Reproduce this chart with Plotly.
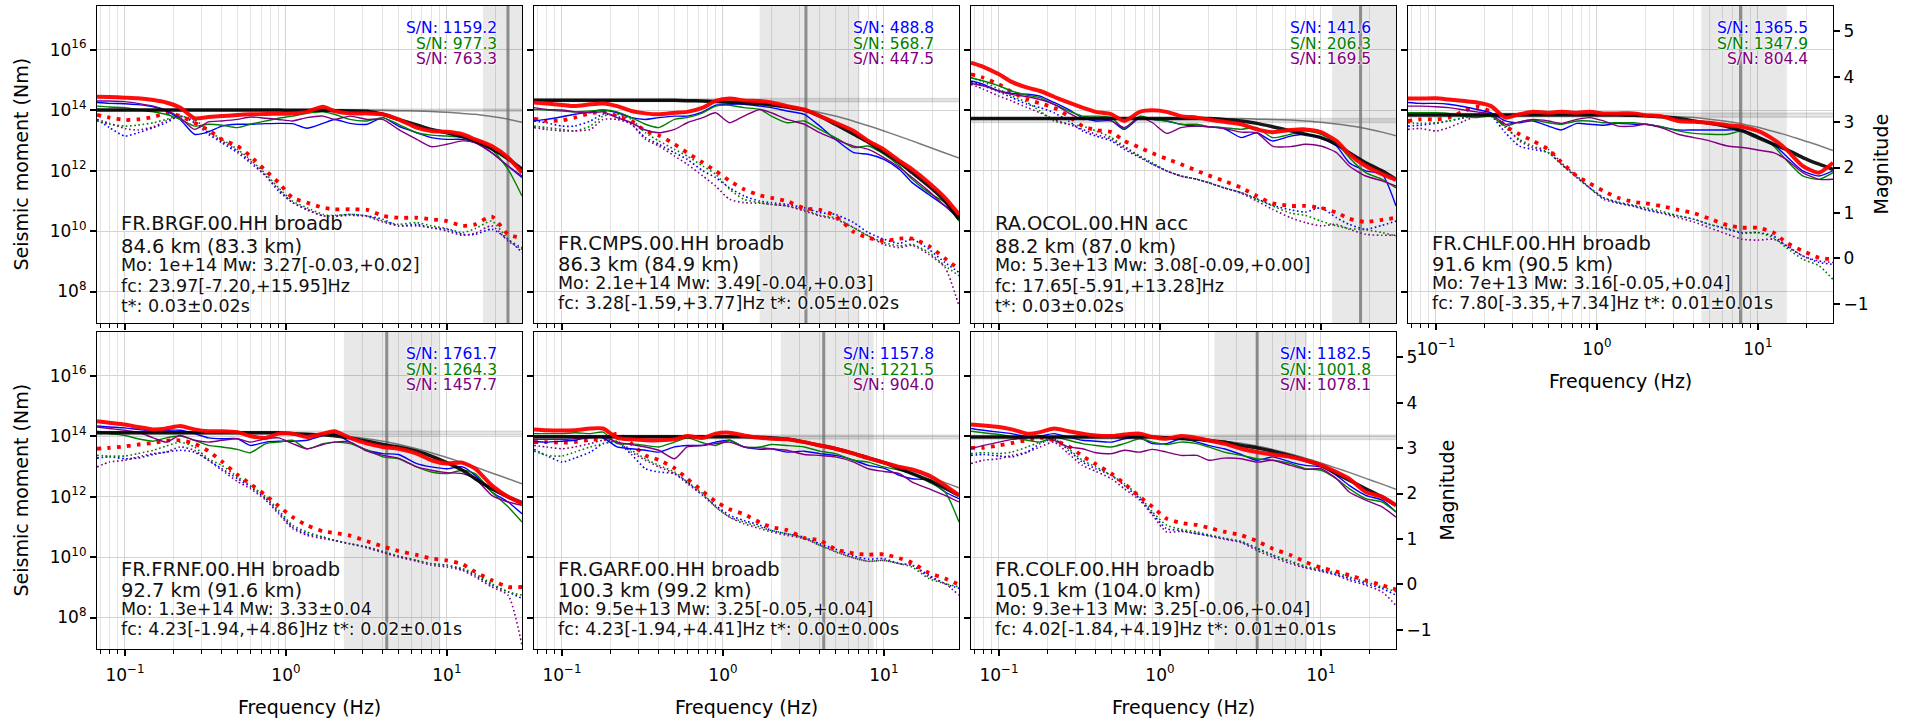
import math
import plotly.graph_objects as go

# ---------------- data (log10 of seismic moment in N·m) ----------------
FREQ = [0.067, 0.08, 0.1, 0.12, 0.15, 0.18, 0.22, 0.27, 0.33, 0.4,
        0.5, 0.6, 0.75, 0.9, 1.1, 1.35, 1.7, 2.0, 2.5, 3.2,
        4, 5, 6.5, 8, 10, 12.5, 15, 19, 24, 29.3]

# --- FR.BRGF ---
BRGF_RED = [14.44,14.43,14.41,14.39,14.33,14.25,14.08,13.73,13.77,13.80, 13.84,13.86,13.87,13.88,13.89,13.94,14.11,13.97,13.89,13.89, 13.86,13.69,13.42,13.31,13.28,13.20,13.03,12.81,12.43,11.93]
BRGF_BLUE = [14.25,14.22,14.21,14.18,14.11,13.97,13.69,13.20,13.28,13.47, 13.53,13.53,13.55,13.56,13.55,13.40,13.56,13.69,13.56,13.53, 13.75,13.47,13.25,13.09,13.03,13.03,12.92,12.59,12.15,11.77]
BRGF_GREEN = [14.13,14.10,14.08,14.02,13.94,13.86,13.69,13.47,13.53,13.50, 13.42,13.53,13.64,13.73,13.80,13.89,13.94,13.86,13.69,13.64, 13.75,13.53,13.25,13.17,13.14,13.09,12.98,12.70,12.04,11.16]
BRGF_PURPLE = [14.30,14.30,14.28,14.22,14.13,14.00,13.75,13.36,13.61,13.64, 13.69,13.77,13.73,13.69,13.64,13.75,13.80,13.69,13.80,13.69, 13.69,13.36,13.03,12.79,12.87,12.98,12.92,12.59,12.15,11.82]
BRGF_FIT = [14.00,14.00,14.00,14.00,14.00,14.00,14.00,14.00,14.00,14.00, 14.00,14.00,14.00,14.00,13.99,13.99,13.99,13.98,13.97,13.96, 13.86,13.69,13.51,13.36,13.25,13.12,12.98,12.72,12.39,12.04]
BRGF_SRC = [14.00,14.00,14.00,14.00,14.00,14.00,14.00,14.00,14.00,14.00, 14.00,14.00,14.00,14.00,14.00,14.00,14.00,14.00,14.00,13.99, 13.99,13.98,13.97,13.95,13.93,13.89,13.86,13.79,13.70,13.60]
BRGF_N_RED = [13.84,13.75,13.67,13.69,13.77,13.89,13.80,13.58,13.34,13.03, 12.81,12.48,11.99,11.60,11.10,10.94,10.77,10.72,10.72,10.70, 10.50,10.44,10.44,10.39,10.33,10.17,10.22,10.48,9.89,9.78]
BRGF_N_BLUE = [13.69,13.42,13.14,13.25,13.42,13.58,13.80,13.58,13.20,12.92, 12.59,12.26,11.82,11.32,10.94,10.72,10.50,10.50,10.55,10.50, 10.39,10.17,10.22,10.11,10.06,9.89,9.89,10.06,9.73,9.29]
BRGF_N_GREEN = [13.64,13.53,13.47,13.50,13.58,13.69,13.80,13.69,13.31,13.03, 12.70,12.37,11.88,11.43,10.99,10.77,10.55,10.52,10.55,10.50, 10.33,10.22,10.28,10.17,10.08,9.95,10.08,10.33,9.73,9.45]
BRGF_N_PURPLE = [13.69,13.56,13.39,13.34,13.45,13.64,13.80,13.64,13.25,12.98, 12.65,12.32,11.82,11.38,10.94,10.70,10.50,10.48,10.52,10.48, 10.30,10.17,10.17,10.11,10.00,9.86,9.93,10.17,9.67,9.40]

# --- FR.CMPS ---
CMPS_RED = [14.25,14.22,14.17,14.13,14.19,14.22,14.13,13.97,13.89,13.86, 13.91,13.94,14.08,14.30,14.38,14.32,14.30,14.25,14.13,14.02, 13.80,13.58,13.31,12.98,12.70,12.32,12.04,11.60,11.10,10.55]
CMPS_BLUE = [13.64,13.69,13.78,13.86,13.94,14.00,13.91,13.75,13.69,13.75, 13.80,13.80,13.94,14.16,14.19,14.19,14.13,14.08,13.97,13.86, 13.47,13.03,12.59,12.54,12.37,12.04,11.60,11.21,10.83,10.39]
CMPS_GREEN = [14.02,14.00,13.97,13.94,13.97,14.00,13.94,13.75,13.53,13.42, 13.69,13.75,13.91,14.13,14.16,14.08,14.02,13.80,13.58,13.64, 13.36,13.09,12.76,12.81,12.54,12.15,11.71,11.27,10.94,10.33]
CMPS_PURPLE = [14.08,14.02,14.00,13.94,13.91,13.94,13.75,13.58,13.34,13.25, 13.36,13.58,13.75,13.91,13.58,13.80,14.02,13.91,13.69,13.53, 13.25,13.03,12.81,12.70,12.43,12.10,11.77,11.32,10.83,10.50]
CMPS_FIT = [14.32,14.32,14.32,14.32,14.32,14.32,14.32,14.32,14.32,14.32, 14.32,14.31,14.30,14.28,14.26,14.24,14.21,14.17,14.10,14.00, 13.80,13.53,13.20,12.94,12.61,12.26,11.93,11.49,10.99,10.39]
CMPS_SRC = [14.32,14.32,14.32,14.32,14.32,14.32,14.32,14.32,14.32,14.32, 14.32,14.31,14.30,14.29,14.27,14.25,14.22,14.18,14.12,14.03, 13.92,13.80,13.63,13.48,13.31,13.13,12.98,12.78,12.58,12.41]
CMPS_N_RED = [13.72,13.64,13.66,13.75,13.89,13.94,13.80,13.64,13.31,13.16, 12.87,12.59,12.26,11.99,11.66,11.38,11.18,11.10,10.99,10.75, 10.70,10.50,9.97,9.78,9.67,9.75,9.75,9.51,9.09,8.74]
CMPS_N_BLUE = [13.64,13.58,13.47,13.47,13.64,13.86,13.80,13.53,13.09,12.87, 12.59,12.37,11.99,11.77,11.43,11.16,10.99,10.94,10.88,10.77, 10.61,10.55,10.28,9.95,9.73,9.59,9.73,9.40,8.96,8.63]
CMPS_N_GREEN = [13.47,13.42,13.36,13.31,13.47,13.80,13.86,13.69,13.25,12.98, 12.70,12.48,12.15,11.88,11.38,11.05,10.94,10.88,10.83,10.70, 10.52,10.44,10.11,9.84,9.62,9.51,9.56,9.29,8.85,8.52]
CMPS_N_PURPLE = [13.42,13.36,13.31,13.31,13.36,13.69,13.69,13.53,13.03,12.81, 12.48,12.21,11.82,11.49,11.05,10.94,10.92,10.88,10.83,10.66, 10.50,10.39,10.11,9.84,9.56,9.45,9.53,9.23,8.79,7.52]

# --- RA.OCOL ---
OCOL_RED = [15.57,15.43,15.18,14.93,14.74,14.63,14.44,14.25,14.08,13.94, 13.86,13.64,13.94,13.99,13.94,13.80,13.75,13.69,13.61,13.53, 13.36,13.27,13.34,13.36,13.27,12.98,12.54,12.15,11.88,11.69]
OCOL_BLUE = [14.96,14.85,14.63,14.55,14.52,14.46,14.25,14.02,13.75,13.64, 13.64,13.36,13.75,13.69,13.64,13.53,13.47,13.45,13.39,13.09, 13.25,12.98,13.14,13.20,13.09,12.81,12.26,11.99,11.88,10.83]
OCOL_GREEN = [15.07,14.96,14.80,14.63,14.49,14.41,14.19,13.97,13.80,13.80, 13.75,13.39,13.80,13.69,13.64,13.53,13.53,13.45,13.42,13.36, 13.42,13.09,13.20,13.31,13.20,12.92,12.43,11.93,11.71,11.43]
OCOL_PURPLE = [14.88,14.80,14.63,14.52,14.44,14.35,14.19,13.91,13.69,13.75, 13.64,13.42,13.75,13.58,13.23,13.42,13.47,13.45,13.39,13.27, 13.25,12.81,12.79,12.87,12.81,12.59,12.15,11.82,11.66,11.49]
OCOL_FIT = [13.72,13.72,13.72,13.72,13.72,13.72,13.72,13.72,13.72,13.72, 13.72,13.72,13.72,13.72,13.72,13.72,13.72,13.72,13.69,13.64, 13.56,13.45,13.31,13.20,13.09,12.87,12.59,12.26,11.99,11.71]
OCOL_SRC = [13.72,13.72,13.72,13.72,13.72,13.72,13.72,13.72,13.72,13.72, 13.72,13.72,13.72,13.72,13.72,13.72,13.72,13.72,13.72,13.72, 13.70,13.69,13.67,13.64,13.60,13.54,13.48,13.39,13.27,13.15]
OCOL_N_RED = [15.18,15.07,14.85,14.60,14.35,14.22,14.08,13.80,13.47,13.34, 13.27,12.98,12.76,12.57,12.39,12.21,11.99,11.84,11.66,11.43, 11.16,10.92,10.83,10.83,10.77,10.61,10.41,10.30,10.37,10.44]
OCOL_N_BLUE = [14.93,14.80,14.60,14.41,14.19,14.08,13.91,13.64,13.31,13.14, 12.98,12.70,12.43,12.21,11.99,11.82,11.71,11.60,11.43,11.27, 11.07,10.85,10.70,10.63,10.77,10.44,10.22,10.06,10.19,10.33]
OCOL_N_GREEN = [15.07,14.93,14.69,14.46,14.25,13.97,13.64,13.53,13.47,13.31, 13.09,12.81,12.48,12.26,11.99,11.82,11.71,11.60,11.43,11.27, 11.05,10.83,10.59,10.52,10.33,10.17,10.08,10.04,9.95,9.84]
OCOL_N_PURPLE = [14.85,14.69,14.46,14.30,14.08,13.91,13.69,13.53,13.36,13.20, 13.03,12.76,12.46,12.21,11.99,11.82,11.71,11.60,11.43,11.25, 10.99,10.72,10.44,10.28,10.17,10.22,10.06,9.89,9.86,9.86]

# --- FR.CHLF ---
CHLF_RED = [14.38,14.38,14.39,14.35,14.30,14.25,14.13,13.75,13.86,13.94, 13.91,13.94,13.91,13.94,13.89,13.89,13.89,13.83,13.80,13.64, 13.61,13.58,13.50,13.45,13.31,13.03,12.70,12.15,11.93,12.26]
CHLF_BLUE = [14.25,14.22,14.22,14.19,14.11,14.02,13.91,13.64,13.58,13.64, 13.47,13.34,13.56,13.53,13.50,13.56,13.53,13.53,13.45,13.34, 13.34,13.34,13.34,13.34,13.14,12.87,12.48,11.99,11.82,11.99]
CHLF_GREEN = [13.91,13.91,13.91,13.89,13.80,13.75,13.80,13.47,13.61,13.67, 13.58,13.53,13.64,13.64,13.58,13.58,13.58,13.53,13.45,13.31, 13.23,13.20,13.20,13.31,13.14,12.81,12.35,11.82,11.71,11.93]
CHLF_PURPLE = [14.13,14.13,14.11,14.08,14.00,13.94,13.86,13.53,13.61,13.69, 13.64,13.56,13.69,13.75,13.64,13.47,13.47,13.53,13.42,13.20, 13.09,12.98,12.81,12.76,12.68,12.59,12.37,11.93,11.71,11.71]
CHLF_FIT = [13.84,13.84,13.84,13.84,13.84,13.84,13.84,13.84,13.84,13.84, 13.84,13.84,13.84,13.84,13.84,13.84,13.83,13.81,13.78,13.72, 13.64,13.56,13.45,13.31,13.09,12.87,12.70,12.43,12.21,12.04]
CHLF_SRC = [13.85,13.85,13.85,13.85,13.85,13.85,13.85,13.85,13.85,13.85, 13.85,13.85,13.85,13.85,13.85,13.85,13.83,13.82,13.80,13.78, 13.75,13.70,13.62,13.54,13.43,13.29,13.18,13.00,12.83,12.66]
CHLF_N_RED = [13.64,13.69,13.69,13.75,13.97,14.11,13.94,13.47,13.20,12.98, 12.70,12.28,11.82,11.58,11.32,11.10,10.96,10.92,10.83,10.70, 10.59,10.41,10.19,10.11,10.11,9.95,9.62,9.34,9.12,9.07]
CHLF_N_BLUE = [13.47,13.50,13.56,13.64,13.75,13.86,13.80,13.25,12.81,12.70, 12.59,12.21,11.77,11.43,11.10,10.94,10.83,10.72,10.61,10.50, 10.39,10.22,10.06,9.93,9.95,9.84,9.51,9.18,8.96,8.90]
CHLF_N_GREEN = [13.58,13.56,13.58,13.64,13.75,13.80,13.80,13.42,13.03,12.81, 12.59,12.21,11.77,11.43,11.10,10.96,10.85,10.77,10.66,10.50, 10.39,10.22,10.08,9.95,9.95,9.78,9.45,9.07,8.85,8.40]
CHLF_N_PURPLE = [13.36,13.39,13.31,13.42,13.64,13.80,13.86,13.47,12.98,12.76, 12.70,12.26,11.82,11.43,11.05,10.92,10.81,10.70,10.59,10.44, 10.30,10.11,9.89,9.73,9.70,9.73,9.53,9.18,9.01,8.96]

# --- FR.FRNF ---
FRNF_RED = [14.49,14.44,14.38,14.30,14.22,14.25,14.33,14.22,14.16,14.16, 14.13,14.00,13.94,14.08,14.08,13.97,14.08,14.16,13.94,13.75, 13.64,13.58,13.42,13.20,13.09,13.12,12.92,12.37,11.99,11.77]
FRNF_BLUE = [14.33,14.30,14.27,14.22,14.16,14.19,14.19,14.08,13.94,13.91, 13.91,13.69,13.80,13.83,13.83,13.86,14.02,14.08,13.80,13.53, 13.42,13.39,13.09,12.98,12.92,12.98,12.70,12.15,11.82,11.43]
FRNF_GREEN = [14.16,14.08,14.02,13.91,13.83,13.94,14.00,13.86,13.69,13.64, 13.56,13.45,13.75,13.80,13.86,13.58,13.75,13.80,13.75,13.53, 13.31,13.25,12.98,12.81,12.76,12.87,12.76,12.15,11.66,11.16]
FRNF_PURPLE = [14.30,14.25,14.19,14.13,13.94,13.80,14.02,13.86,13.80,13.86, 13.91,13.80,13.91,13.94,13.75,13.58,13.72,13.80,13.80,13.50, 13.36,13.27,12.98,12.87,12.79,12.76,12.59,12.04,11.82,11.71]
FRNF_FIT = [14.11,14.11,14.11,14.11,14.11,14.11,14.11,14.11,14.11,14.11, 14.11,14.11,14.11,14.11,14.08,14.06,14.04,14.01,13.94,13.83, 13.72,13.64,13.50,13.34,13.12,12.87,12.59,12.26,11.99,11.80]
FRNF_SRC = [14.11,14.11,14.11,14.11,14.11,14.11,14.11,14.11,14.11,14.11, 14.11,14.11,14.11,14.11,14.08,14.07,14.05,14.03,13.98,13.91, 13.83,13.73,13.58,13.45,13.29,13.12,12.98,12.78,12.59,12.42]
FRNF_N_RED = [13.58,13.61,13.66,13.72,13.77,13.85,13.86,13.75,13.50,13.16, 12.72,12.42,12.04,11.69,11.32,11.05,10.85,10.80,10.71,10.52, 10.35,10.20,10.07,9.95,9.89,9.76,9.51,9.23,9.01,9.01]
FRNF_N_BLUE = [13.27,13.31,13.25,13.27,13.39,13.47,13.53,13.47,13.20,12.92, 12.59,12.32,11.93,11.49,10.99,10.77,10.66,10.55,10.44,10.33, 10.17,10.03,9.89,9.78,9.73,9.59,9.40,9.07,8.85,8.63]
FRNF_N_GREEN = [13.36,13.34,13.34,13.42,13.53,13.67,13.80,13.64,13.25,13.03, 12.65,12.37,11.99,11.55,11.05,10.83,10.66,10.55,10.44,10.33, 10.19,10.03,9.89,9.78,9.73,9.62,9.45,9.12,8.85,8.74]
FRNF_N_PURPLE = [12.98,13.14,13.20,13.31,13.42,13.47,13.64,13.53,13.20,12.87, 12.50,12.26,11.88,11.43,10.94,10.72,10.61,10.55,10.44,10.30, 10.15,10.00,9.86,9.73,9.67,9.56,9.34,9.01,8.74,7.08]

# --- FR.GARF ---
GARF_RED = [14.22,14.19,14.18,14.19,14.25,14.25,13.94,13.89,13.86,13.86, 13.89,14.00,13.94,14.08,14.11,14.02,13.94,13.91,13.89,13.80, 13.69,13.58,13.42,13.27,13.12,12.98,12.90,12.70,12.37,12.04]
GARF_BLUE = [13.83,13.80,13.83,13.86,13.97,13.94,13.64,13.58,13.53,13.47, 13.64,13.69,13.69,13.80,13.86,13.64,13.56,13.58,13.47,13.50, 13.42,13.36,13.20,13.03,12.94,12.70,12.59,12.54,12.15,11.93]
GARF_GREEN = [14.08,14.08,14.08,14.11,14.08,14.13,13.75,13.75,13.69,13.64, 13.80,13.94,13.78,13.69,13.86,13.64,13.64,13.72,13.69,13.64, 13.50,13.42,13.20,13.14,12.98,12.87,12.76,12.48,12.15,11.16]
GARF_PURPLE = [13.89,13.89,13.89,13.91,13.94,13.97,13.80,13.72,13.64,13.53, 13.25,13.64,13.69,13.75,13.80,13.64,13.61,13.58,13.53,13.39, 13.36,13.31,13.14,12.92,12.83,12.76,12.48,12.26,12.04,11.82]
GARF_FIT = [13.98,13.98,13.98,13.98,13.98,13.98,13.98,13.98,13.98,13.98, 13.98,13.98,13.98,13.98,13.98,13.98,13.96,13.94,13.90,13.80, 13.69,13.58,13.42,13.27,13.12,12.92,12.76,12.54,12.28,12.04]
GARF_SRC = [13.98,13.98,13.98,13.98,13.98,13.98,13.98,13.98,13.98,13.98, 13.98,13.98,13.98,13.98,13.98,13.98,13.96,13.94,13.90,13.82, 13.72,13.61,13.46,13.32,13.16,12.99,12.85,12.65,12.46,12.29]
GARF_N_RED = [13.80,13.80,13.78,13.80,13.88,13.89,14.08,13.75,13.36,13.21, 12.94,12.59,12.17,11.84,11.58,11.42,11.14,10.99,10.89,10.63, 10.55,10.26,10.12,10.08,10.09,9.96,9.81,9.48,9.29,9.09]
GARF_N_BLUE = [13.56,13.36,13.14,13.27,13.47,13.75,13.80,13.39,12.92,12.81, 12.76,12.48,12.04,11.71,11.38,11.21,11.05,10.88,10.77,10.66, 10.44,10.26,10.03,9.93,9.95,9.78,9.73,9.40,9.12,8.96]
GARF_N_GREEN = [13.50,13.36,13.34,13.47,13.64,13.75,13.83,13.53,13.25,13.03, 12.81,12.48,12.10,11.66,11.32,11.16,10.99,10.88,10.77,10.63, 10.39,10.17,9.97,9.86,9.89,9.78,9.67,9.29,9.12,9.01]
GARF_N_PURPLE = [13.69,13.64,13.58,13.64,13.75,13.86,13.80,13.47,13.20,12.98, 12.76,12.43,12.04,11.66,11.32,11.10,10.94,10.83,10.72,10.61, 10.39,10.19,9.97,9.86,9.89,9.78,9.73,9.34,9.12,8.74]

# --- FR.COLF ---
COLF_RED = [14.38,14.35,14.30,14.22,14.08,14.13,14.25,14.16,14.08,14.02, 14.00,14.05,14.08,13.97,13.91,14.00,13.94,13.86,13.75,13.58, 13.47,13.39,13.31,13.20,13.05,12.81,12.59,12.15,11.99,11.71]
COLF_BLUE = [14.25,14.19,14.13,14.08,13.97,14.00,14.08,13.97,13.86,13.83, 13.80,13.91,13.94,13.75,13.75,13.91,13.80,13.69,13.58,13.39, 13.20,13.31,13.14,13.03,12.98,12.70,12.37,12.04,11.88,11.49]
COLF_GREEN = [14.16,14.11,14.05,13.97,13.86,13.80,13.97,13.86,13.75,13.69, 13.64,13.75,13.91,13.80,13.72,13.80,13.75,13.64,13.47,13.36, 13.25,13.20,13.09,12.92,12.87,12.59,12.26,11.93,11.82,11.49]
COLF_PURPLE = [13.58,13.69,13.80,13.89,13.94,14.00,13.86,13.64,13.58,13.45, 13.42,13.53,13.47,13.56,13.47,13.36,13.36,13.20,13.27,13.25, 13.14,13.20,13.03,12.90,12.92,12.59,12.15,11.88,11.66,11.32]
COLF_FIT = [13.97,13.97,13.97,13.97,13.97,13.97,13.97,13.97,13.97,13.97, 13.97,13.97,13.97,13.97,13.94,13.92,13.89,13.85,13.80,13.69, 13.61,13.50,13.34,13.20,13.03,12.76,12.54,12.26,11.99,11.71]
COLF_SRC = [13.97,13.97,13.97,13.97,13.97,13.97,13.97,13.97,13.97,13.97, 13.97,13.97,13.97,13.97,13.94,13.92,13.90,13.87,13.83,13.76, 13.67,13.56,13.41,13.27,13.11,12.94,12.80,12.60,12.41,12.24]
COLF_N_RED = [13.61,13.61,13.69,13.77,13.86,13.95,13.85,13.67,13.34,13.07, 12.76,12.43,11.99,11.66,11.27,11.13,11.06,10.97,10.84,10.72, 10.53,10.28,10.06,9.84,9.65,9.52,9.40,9.23,9.07,8.93]
COLF_N_BLUE = [13.36,13.39,13.34,13.31,13.47,13.75,13.91,13.53,13.14,12.92, 12.70,12.37,11.93,11.43,10.94,10.88,10.77,10.72,10.61,10.50, 10.28,10.06,9.84,9.67,9.56,9.42,9.29,9.12,8.96,8.74]
COLF_N_GREEN = [13.42,13.45,13.42,13.47,13.64,13.80,13.89,13.58,13.20,12.98, 12.70,12.43,11.99,11.49,11.05,10.92,10.83,10.74,10.63,10.52, 10.30,10.08,9.86,9.70,9.59,9.48,9.34,9.18,9.01,8.85]
COLF_N_PURPLE = [13.09,13.20,13.25,13.36,13.47,13.64,13.80,13.42,13.03,12.83, 12.59,12.26,11.88,11.38,10.83,10.85,10.77,10.70,10.59,10.48, 10.22,10.00,9.78,9.64,9.53,9.40,9.23,9.07,8.85,8.40]

# --- text / parameters ---
STATION = ["FR.BRGF.00.HH broadb", "FR.CMPS.00.HH broadb", "RA.OCOL.00.HN acc", "FR.CHLF.00.HH broadb",
           "FR.FRNF.00.HH broadb", "FR.GARF.00.HH broadb", "FR.COLF.00.HH broadb"]
DISTANCE = ["84.6 km (83.3 km)", "86.3 km (84.9 km)", "88.2 km (87.0 km)", "91.6 km (90.5 km)",
            "92.7 km (91.6 km)", "100.3 km (99.2 km)", "105.1 km (104.0 km)"]
PARAM_LINES = [
    ["Mo: 1e+14 Mw: 3.27[-0.03,+0.02]", "fc: 23.97[-7.20,+15.95]Hz", "t*: 0.03±0.02s"],
    ["Mo: 2.1e+14 Mw: 3.49[-0.04,+0.03]", "fc: 3.28[-1.59,+3.77]Hz t*: 0.05±0.02s"],
    ["Mo: 5.3e+13 Mw: 3.08[-0.09,+0.00]", "fc: 17.65[-5.91,+13.28]Hz", "t*: 0.03±0.02s"],
    ["Mo: 7e+13 Mw: 3.16[-0.05,+0.04]", "fc: 7.80[-3.35,+7.34]Hz t*: 0.01±0.01s"],
    ["Mo: 1.3e+14 Mw: 3.33±0.04", "fc: 4.23[-1.94,+4.86]Hz t*: 0.02±0.01s"],
    ["Mo: 9.5e+13 Mw: 3.25[-0.05,+0.04]", "fc: 4.23[-1.94,+4.41]Hz t*: 0.00±0.00s"],
    ["Mo: 9.3e+13 Mw: 3.25[-0.06,+0.04]", "fc: 4.02[-1.84,+4.19]Hz t*: 0.01±0.01s"],
]
SN_BLUE = ["1159.2", "488.8", "141.6", "1365.5", "1761.7", "1157.8", "1182.5"]
SN_GREEN = ["977.3", "568.7", "206.3", "1347.9", "1264.3", "1221.5", "1001.8"]
SN_PURPLE = ["763.3", "447.5", "169.5", "804.4", "1457.7", "904.0", "1078.1"]
FC = [23.97, 3.28, 17.65, 7.80, 4.23, 4.23, 4.02]
FC_MINUS = [7.20, 1.59, 5.91, 3.35, 1.94, 1.94, 1.84]
FC_PLUS = [15.95, 3.77, 13.28, 7.34, 4.86, 4.41, 4.19]
MW = [3.27, 3.49, 3.08, 3.16, 3.33, 3.25, 3.25]
MW_MINUS = [0.03, 0.04, 0.09, 0.05, 0.04, 0.05, 0.06]
MW_PLUS = [0.02, 0.03, 0.00, 0.04, 0.04, 0.04, 0.04]

X_TICKS = [0.1, 1, 10]
X_TICKTEXT = ["10<sup>\u22121</sup>", "10<sup>0</sup>", "10<sup>1</sup>"]
Y_TICKS = [1e8, 1e10, 1e12, 1e14, 1e16]
Y_TICKTEXT = ["10<sup>8</sup>", "10<sup>10</sup>", "10<sup>12</sup>", "10<sup>14</sup>", "10<sup>16</sup>"]
MAG_TICKS = [-1, 0, 1, 2, 3, 4, 5]
MAG_TICKTEXT = ["\u22121", "0", "1", "2", "3", "4", "5"]
X_MINOR = [0.07, 0.08, 0.09, 0.2, 0.3, 0.4, 0.5, 0.6, 0.7, 0.8, 0.9,
           2, 3, 4, 5, 6, 7, 8, 9, 20]

SERIES = [
    (BRGF_RED, BRGF_BLUE, BRGF_GREEN, BRGF_PURPLE, BRGF_FIT, BRGF_SRC, BRGF_N_RED, BRGF_N_BLUE, BRGF_N_GREEN, BRGF_N_PURPLE),
    (CMPS_RED, CMPS_BLUE, CMPS_GREEN, CMPS_PURPLE, CMPS_FIT, CMPS_SRC, CMPS_N_RED, CMPS_N_BLUE, CMPS_N_GREEN, CMPS_N_PURPLE),
    (OCOL_RED, OCOL_BLUE, OCOL_GREEN, OCOL_PURPLE, OCOL_FIT, OCOL_SRC, OCOL_N_RED, OCOL_N_BLUE, OCOL_N_GREEN, OCOL_N_PURPLE),
    (CHLF_RED, CHLF_BLUE, CHLF_GREEN, CHLF_PURPLE, CHLF_FIT, CHLF_SRC, CHLF_N_RED, CHLF_N_BLUE, CHLF_N_GREEN, CHLF_N_PURPLE),
    (FRNF_RED, FRNF_BLUE, FRNF_GREEN, FRNF_PURPLE, FRNF_FIT, FRNF_SRC, FRNF_N_RED, FRNF_N_BLUE, FRNF_N_GREEN, FRNF_N_PURPLE),
    (GARF_RED, GARF_BLUE, GARF_GREEN, GARF_PURPLE, GARF_FIT, GARF_SRC, GARF_N_RED, GARF_N_BLUE, GARF_N_GREEN, GARF_N_PURPLE),
    (COLF_RED, COLF_BLUE, COLF_GREEN, COLF_PURPLE, COLF_FIT, COLF_SRC, COLF_N_RED, COLF_N_BLUE, COLF_N_GREEN, COLF_N_PURPLE),
]
for grp in SERIES:
    for arr in grp:
        assert len(arr) == len(FREQ), len(arr)

# ---------------- layout geometry ----------------
W, H = 1906, 722
COL_LEFT = [97, 534, 971, 1408]
PW = 425
ROW_TOP = [6, 332]
PH = 317
YLOG = [6.96, 17.44]
XLOG = [math.log10(FREQ[0]), math.log10(FREQ[-1])]
FONT = "DejaVu Sans"
HALO = "0 0 2px white, 0 0 2px white, 0 0 3px white"

BLUE, GREEN, PURPLE, RED = "#0000ff", "#008000", "#800080", "#ff0000"


def mw_to_m0(m):
    return 10 ** (1.5 * m + 9.1)


def pow10(v):
    return [10 ** x for x in v]


fig = go.Figure()
layout = dict(width=W, height=H, autosize=False, margin=dict(l=0, r=0, t=0, b=0),
              showlegend=False, paper_bgcolor="white", plot_bgcolor="white",
              font=dict(family=FONT, size=17, color="black"))
annotations = []

for i in range(7):
    r, c = divmod(i, 4)
    sfx = "" if i == 0 else str(i + 1)
    xa, ya = "x" + sfx, "y" + sfx
    red, blue, green, purple, fit, src, nred, nblue, ngreen, npurple = SERIES[i]

    def add(x, y, **kw):
        fig.add_trace(go.Scatter(x=x, y=y, xaxis=xa, yaxis=ya, hoverinfo="skip", showlegend=False, **kw))

    # fc uncertainty span
    lo, hi = FC[i] - FC_MINUS[i], FC[i] + FC_PLUS[i]
    add([lo, hi, hi, lo, lo], [1e5, 1e5, 1e19, 1e19, 1e5], mode="lines", fill="toself",
        fillcolor="rgba(0,0,0,0.09)", line=dict(width=0))
    # Mw uncertainty band
    m0a, m0b = mw_to_m0(MW[i] - MW_MINUS[i]), mw_to_m0(MW[i] + MW_PLUS[i])
    add([0.01, 100, 100, 0.01, 0.01], [m0a, m0a, m0b, m0b, m0a], mode="lines", fill="toself",
        fillcolor="rgba(0,0,0,0.10)", line=dict(width=1.5, color="rgba(0,0,0,0.10)"))
    # fc line
    add([FC[i], FC[i]], [1e5, 1e19], mode="lines", line=dict(color="rgba(110,110,110,0.75)", width=3))
    # source model without attenuation
    add(FREQ, pow10(src), mode="lines", line=dict(color="rgba(90,90,90,0.8)", width=1.5, shape="spline", smoothing=0.6))
    # noise spectra
    for arr, col in ((nblue, BLUE), (ngreen, GREEN), (npurple, PURPLE)):
        add(FREQ, pow10(arr), mode="lines", line=dict(color=col, width=1.6, dash="1.6px,2.6px", shape="spline", smoothing=0.6))
    add(FREQ, pow10(nred), mode="lines", line=dict(color=RED, width=3.8, dash="3.8px,6.2px", shape="spline", smoothing=0.6))
    # component spectra
    for arr, col in ((blue, BLUE), (green, GREEN), (purple, PURPLE)):
        add(FREQ, pow10(arr), mode="lines", line=dict(color=col, width=1.4, shape="spline", smoothing=0.6))
    # fit and combined spectrum
    add(FREQ, pow10(fit), mode="lines", line=dict(color="rgba(0,0,0,0.9)", width=3.5, shape="spline", smoothing=0.6))
    add(FREQ, pow10(red), mode="lines", line=dict(color="rgba(255,0,0,0.95)", width=4, shape="spline", smoothing=0.6))

    x0 = COL_LEFT[c] / W
    x1 = (COL_LEFT[c] + PW) / W
    y1 = 1 - ROW_TOP[r] / H
    y0 = 1 - (ROW_TOP[r] + PH) / H
    show_xlab = (r == 1) or (i == 3)
    layout["xaxis" + sfx] = dict(
        domain=[x0, x1], anchor=ya, type="log", range=XLOG,
        tickmode="array", tickvals=X_TICKS, ticktext=X_TICKTEXT, showticklabels=show_xlab,
        ticks="outside", ticklen=6, tickwidth=1.5, tickcolor="black", ticklabelstandoff=4,
        showline=True, linecolor="black", linewidth=1.2, mirror=True,
        showgrid=True, gridcolor="#d4d4d4", gridwidth=1, zeroline=False,
        tickfont=dict(size=17, family=FONT, color="black"),
        minor=dict(tickmode="array", tickvals=X_MINOR, ticks="outside", ticklen=3.5, tickwidth=1,
                   tickcolor="black", showgrid=True, gridcolor="#e2e2e2", gridwidth=1),
    )
    layout["yaxis" + sfx] = dict(
        domain=[y0, y1], anchor=xa, type="log", range=YLOG,
        tickmode="array", tickvals=Y_TICKS, ticktext=Y_TICKTEXT, showticklabels=(c == 0),
        ticks="outside", ticklen=6, tickwidth=1.5, tickcolor="black",
        showline=True, linecolor="black", linewidth=1.2, mirror=True,
        showgrid=True, gridcolor="#d4d4d4", gridwidth=1, zeroline=False,
        tickfont=dict(size=17, family=FONT, color="black"),
    )

    # station text
    nlines = 2 + len(PARAM_LINES[i])
    centers = [217, 240, 259, 280, 300] if nlines == 5 else [237, 258, 277, 297]
    texts = [STATION[i], DISTANCE[i]] + PARAM_LINES[i]
    for k, (t, cy) in enumerate(zip(texts, centers)):
        annotations.append(dict(text=t, xref=xa + " domain", yref=ya + " domain", x=22 / PW, y=1 - cy / PH,
                                xanchor="left", yanchor="middle", showarrow=False,
                                font=dict(size=19.5 if k < 2 else 17.5, family=FONT, color="#111", shadow=HALO)))
    # S/N text
    for k, (t, col) in enumerate(((SN_BLUE[i], BLUE), (SN_GREEN[i], GREEN), (SN_PURPLE[i], PURPLE))):
        annotations.append(dict(text="S/N: " + t, xref=xa + " domain", yref=ya + " domain",
                                x=1 - 23 / PW, y=1 - (22 + 15.5 * k) / PH,
                                xanchor="right", yanchor="middle", showarrow=False,
                                font=dict(size=15.5, family=FONT, color=col, shadow=HALO)))

# magnitude axes (right side of panels 4 and 7)
MAG_RANGE = [(YLOG[0] - 9.1) / 1.5, (YLOG[1] - 9.1) / 1.5]
for key, over, anc in (("yaxis8", "y4", "x4"), ("yaxis9", "y7", "x7")):
    layout[key] = dict(overlaying=over, anchor=anc, side="right", range=MAG_RANGE,
                       tickmode="array", tickvals=MAG_TICKS, ticktext=MAG_TICKTEXT,
                       ticks="outside", ticklen=6, tickwidth=1.5, tickcolor="black",
                       showgrid=False, zeroline=False, showline=False,
                       tickfont=dict(size=17, family=FONT, color="black"))
    fig.add_trace(go.Scatter(x=[1], y=[3], xaxis=anc, yaxis="y" + key[5:], mode="markers",
                             marker=dict(opacity=0), hoverinfo="skip", showlegend=False))

# axis titles
TITLE_FONT = dict(size=19, family=FONT, color="black")
for r in range(2):
    cy = 1 - (ROW_TOP[r] + PH / 2) / H
    annotations.append(dict(text="Seismic moment (Nm)", xref="paper", yref="paper", x=20 / W, y=cy,
                            textangle=-90, showarrow=False, xanchor="center", yanchor="middle",
                            font=TITLE_FONT))
for c in range(3):
    annotations.append(dict(text="Frequency (Hz)", xref="paper", yref="paper",
                            x=(COL_LEFT[c] + PW / 2) / W, y=1 - 707 / H, showarrow=False,
                            xanchor="center", yanchor="middle", font=TITLE_FONT))
annotations.append(dict(text="Frequency (Hz)", xref="paper", yref="paper",
                        x=(COL_LEFT[3] + PW / 2) / W, y=1 - 381 / H, showarrow=False,
                        xanchor="center", yanchor="middle", font=TITLE_FONT))
annotations.append(dict(text="Magnitude", xref="paper", yref="paper", x=1880 / W,
                        y=1 - (ROW_TOP[0] + PH / 2) / H, textangle=-90, showarrow=False,
                        xanchor="center", yanchor="middle", font=TITLE_FONT))
annotations.append(dict(text="Magnitude", xref="paper", yref="paper", x=1446 / W,
                        y=1 - (ROW_TOP[1] + PH / 2) / H, textangle=-90, showarrow=False,
                        xanchor="center", yanchor="middle", font=TITLE_FONT))

layout["annotations"] = annotations
fig.update_layout(**layout)
fig.write_html("out.html", config={"displayModeBar": False},
               post_script="document.body.style.margin='0px';")
